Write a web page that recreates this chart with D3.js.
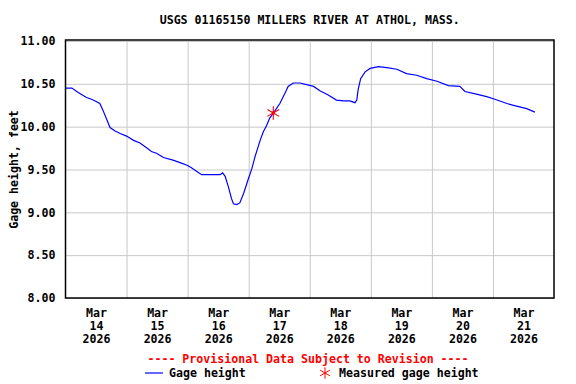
<!DOCTYPE html>
<html>
<head>
<meta charset="utf-8">
<script src="https://cdn.jsdelivr.net/npm/d3@7"></script>
<style>
  body { margin: 0; background: #fff; }
  svg text { font-family: "DejaVu Sans Mono", monospace; font-weight: bold; }
</style>
</head>
<body>
<svg id="chart" width="576" height="384"></svg>
<script>
// Gage height, 15-min record (time, feet)
const times = [
  "2026-03-14 00:00", "2026-03-14 02:30", "2026-03-14 05:00", "2026-03-14 08:15", "2026-03-14 10:15",
  "2026-03-14 12:15", "2026-03-14 13:30", "2026-03-14 14:45", "2026-03-14 16:15", "2026-03-14 17:30",
  "2026-03-14 19:30", "2026-03-14 21:30", "2026-03-15 00:00", "2026-03-15 02:45", "2026-03-15 05:15",
  "2026-03-15 08:00", "2026-03-15 09:45", "2026-03-15 11:45", "2026-03-15 14:30", "2026-03-15 18:15",
  "2026-03-15 21:00", "2026-03-15 23:45", "2026-03-16 01:30", "2026-03-16 03:30", "2026-03-16 05:30",
  "2026-03-16 08:45", "2026-03-16 12:45", "2026-03-16 13:45", "2026-03-16 14:45", "2026-03-16 16:00",
  "2026-03-16 17:15", "2026-03-16 18:00", "2026-03-16 19:15", "2026-03-16 20:30", "2026-03-16 22:00",
  "2026-03-16 23:45", "2026-03-17 01:15", "2026-03-17 02:30", "2026-03-17 04:30", "2026-03-17 05:45",
  "2026-03-17 07:00", "2026-03-17 08:15", "2026-03-17 09:45", "2026-03-17 12:15", "2026-03-17 14:15",
  "2026-03-17 15:30", "2026-03-17 17:30", "2026-03-17 20:15", "2026-03-17 22:45", "2026-03-18 01:30",
  "2026-03-18 04:00", "2026-03-18 07:15", "2026-03-18 10:30", "2026-03-18 13:15", "2026-03-18 15:45",
  "2026-03-18 17:45", "2026-03-18 18:30", "2026-03-18 19:00", "2026-03-18 20:00", "2026-03-18 21:45",
  "2026-03-18 23:45", "2026-03-19 03:00", "2026-03-19 06:15", "2026-03-19 10:15", "2026-03-19 14:00",
  "2026-03-19 18:00", "2026-03-19 22:00", "2026-03-20 02:00", "2026-03-20 06:30", "2026-03-20 11:00",
  "2026-03-20 13:00", "2026-03-20 17:30", "2026-03-20 21:30", "2026-03-21 00:45", "2026-03-21 05:30",
  "2026-03-21 09:15", "2026-03-21 13:15", "2026-03-21 16:30"
];
const heights = [
  10.45, 10.45, 10.40, 10.34, 10.32,
  10.29, 10.27, 10.19, 10.08, 9.99,
  9.95, 9.92, 9.89, 9.84, 9.81,
  9.75, 9.71, 9.69, 9.64, 9.61,
  9.58, 9.55, 9.52, 9.48, 9.44,
  9.44, 9.44, 9.46, 9.42, 9.30,
  9.16, 9.10, 9.09, 9.11, 9.22,
  9.38, 9.51, 9.65, 9.84, 9.94,
  10.01, 10.10, 10.16, 10.27, 10.39,
  10.47, 10.51, 10.51, 10.49, 10.47,
  10.42, 10.37, 10.31, 10.30, 10.30,
  10.28, 10.31, 10.43, 10.56, 10.64,
  10.68, 10.70, 10.69, 10.67, 10.62,
  10.60, 10.56, 10.53, 10.48, 10.47,
  10.41, 10.38, 10.35, 10.32, 10.27,
  10.24, 10.21, 10.17
];

// Field measurement
const measuredTimes = ["2026-03-17 09:40"];
const measuredHeights = [10.16];

const yTicks = [8.0, 8.5, 9.0, 9.5, 10.0, 10.5, 11.0];
const dayLabels = ["2026-03-14", "2026-03-15", "2026-03-16", "2026-03-17",
                   "2026-03-18", "2026-03-19", "2026-03-20", "2026-03-21"];

const titleText = "USGS 01165150 MILLERS RIVER AT ATHOL, MASS.";
const yTitle = "Gage height, feet";
const provisional = "---- Provisional Data Subject to Revision ----";

const parseTime = d3.timeParse("%Y-%m-%d %H:%M");
const parseDay = d3.timeParse("%Y-%m-%d");

const series = times.map((t, i) => ({ t: parseTime(t), v: heights[i] }));
const measured = measuredTimes.map((t, i) => ({ t: parseTime(t), v: measuredHeights[i] }));

const margin = { left: 65.5, right: 22, top: 41, bottom: 86 };
const width = 576, height = 384;
const svg = d3.select('#chart');

const x = d3.scaleTime()
    .domain([parseDay("2026-03-14"), parseDay("2026-03-22")])
    .range([margin.left, width - margin.right]);
const y = d3.scaleLinear()
    .domain([8, 11])
    .range([height - margin.bottom, margin.top]);

const fontSize = '11.6px';

// Title
svg.append('text')
    .attr('x', (margin.left + width - margin.right) / 2)
    .attr('y', 20)
    .attr('text-anchor', 'middle')
    .attr('dominant-baseline', 'middle')
    .attr('font-size', fontSize)
    .text(titleText);

// Horizontal grid
svg.append('g')
    .attr('transform', `translate(${margin.left},0)`)
    .call(d3.axisLeft(y).tickValues(yTicks).tickSize(-(width - margin.left - margin.right)).tickFormat(''))
    .call(g => g.select('.domain').remove())
    .call(g => g.selectAll('line').attr('stroke', '#c8c8c8'));

// Vertical grid at day boundaries
const dayBounds = dayLabels.slice(1).map(parseDay);
svg.append('g')
    .attr('transform', `translate(0,${height - margin.bottom})`)
    .call(d3.axisBottom(x).tickValues(dayBounds).tickSize(-(height - margin.top - margin.bottom)).tickFormat(''))
    .call(g => g.select('.domain').remove())
    .call(g => g.selectAll('line').attr('stroke', '#c8c8c8'));

// Y tick labels
svg.append('g')
    .attr('transform', `translate(${margin.left},0)`)
    .call(d3.axisLeft(y).tickValues(yTicks).tickSize(0).tickPadding(10).tickFormat(d3.format('.2f')))
    .call(g => g.select('.domain').remove())
    .call(g => g.selectAll('text')
        .attr('font-size', fontSize)
        .attr('font-family', '"DejaVu Sans Mono", monospace')
        .attr('fill', '#000'));

// X labels, centred on each day at noon
const noon = dayLabels.map(d => d3.timeHour.offset(parseDay(d), 12));
const fmtMon = d3.timeFormat('%b'), fmtDay = d3.timeFormat('%-d'), fmtYear = d3.timeFormat('%Y');
svg.append('g')
    .attr('transform', `translate(0,${height - margin.bottom})`)
    .call(d3.axisBottom(x).tickValues(noon).tickSize(0).tickFormat(''))
    .call(g => g.select('.domain').remove())
    .call(g => g.selectAll('.tick').each(function(d) {
        const t = d3.select(this).select('text')
            .attr('y', 0)
            .attr('dy', null)
            .attr('font-size', fontSize)
            .attr('font-family', '"DejaVu Sans Mono", monospace')
            .attr('fill', '#000');
        [fmtMon(d), fmtDay(d), fmtYear(d)].forEach((s, i) => {
            t.append('tspan').attr('x', 0).attr('y', 19 + i * 13).text(s);
        });
    }));

// Y axis title
svg.append('text')
    .attr('transform', `translate(14,${(margin.top + height - margin.bottom) / 2}) rotate(-90)`)
    .attr('text-anchor', 'middle')
    .attr('dominant-baseline', 'middle')
    .attr('font-size', fontSize)
    .text(yTitle);

// Gage height line
const line = d3.line().x(d => x(d.t)).y(d => y(d.v));
svg.append('path')
    .datum(series)
    .attr('fill', 'none')
    .attr('stroke', '#0000ff')
    .attr('stroke-width', 1.2)
    .attr('d', line);

// Measured point
const star = d3.symbol().type(d3.symbolAsterisk).size(130);
const measuredG = svg.selectAll('.measured')
    .data(measured)
    .enter().append('g')
    .attr('class', 'measured')
    .attr('transform', d => `translate(${x(d.t)},${y(d.v)})`);
measuredG.append('path')
    .attr('d', star)
    .attr('fill', 'none')
    .attr('stroke', '#ff0000')
    .attr('stroke-width', 1.1);
measuredG.append('circle')
    .attr('r', 1.8)
    .attr('fill', '#ff0000');

// Plot frame
svg.append('rect')
    .attr('x', margin.left)
    .attr('y', margin.top - 1)
    .attr('width', width - margin.left - margin.right)
    .attr('height', height - margin.top - margin.bottom + 1)
    .attr('fill', 'none')
    .attr('stroke', '#000')
    .attr('stroke-width', 1.5);

// Provisional note
svg.append('text')
    .attr('x', 308)
    .attr('y', 359)
    .attr('text-anchor', 'middle')
    .attr('dominant-baseline', 'middle')
    .attr('font-size', fontSize)
    .attr('fill', '#ff0000')
    .text(provisional);

// Legend
const legend = svg.append('g').attr('transform', 'translate(0,373)');
legend.append('line')
    .attr('x1', 145).attr('x2', 163).attr('y1', 0).attr('y2', 0)
    .attr('stroke', '#0000ff').attr('stroke-width', 1.2);
legend.append('text')
    .attr('x', 169).attr('y', 0)
    .attr('dominant-baseline', 'middle')
    .attr('font-size', fontSize)
    .text('Gage height');
legend.append('path')
    .attr('transform', 'translate(325,0)')
    .attr('d', d3.symbol().type(d3.symbolAsterisk).size(90))
    .attr('fill', 'none')
    .attr('stroke', '#ff0000');
legend.append('text')
    .attr('x', 339).attr('y', 0)
    .attr('dominant-baseline', 'middle')
    .attr('font-size', fontSize)
    .text('Measured gage height');
</script>
</body>
</html>
